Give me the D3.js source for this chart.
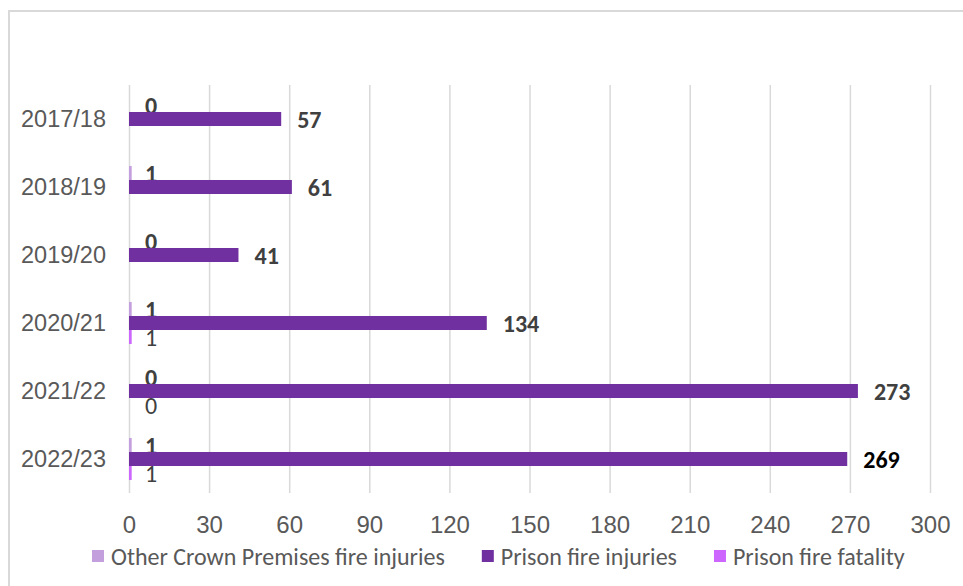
<!DOCTYPE html>
<html><head><meta charset="utf-8">
<script src="https://cdn.jsdelivr.net/npm/d3@7"></script>
<style>
html,body{margin:0;padding:0;background:#fff;}
svg{display:block;font-family:Carlito,Calibri,Lato,"Open Sans",sans-serif;}
</style></head>
<body><svg id="chart" width="963" height="586"></svg>
<script>
const categories = ["2017/18","2018/19","2019/20","2020/21","2021/22","2022/23"];
const seriesNames = ["Other Crown Premises fire injuries","Prison fire injuries","Prison fire fatality"];
const otherCrown = [0,1,0,1,0,1];
const prisonInjuries = [57,61,41,134,273,269];
const prisonFatality = [null,null,null,1,0,1];
const xTicks = [0,30,60,90,120,150,180,210,240,270,300];
const colors = ["#C39FDD","#7030A0","#CC66FF"];

(function(){
const seriesValues = [otherCrown, prisonInjuries, prisonFatality];
const svg = d3.select("#chart");

svg.append("rect").attr("x",9).attr("y",11).attr("width",1000).attr("height",1000)
  .attr("fill","none").attr("stroke","#d9d9d9").attr("stroke-width",2);

const pLeft = 129, pRight = 930, pTop = 85, pBottom = 493;
const x = d3.scaleLinear().domain([0,300]).range([pLeft,pRight]);
const y = d3.scaleBand().domain(categories).range([pTop,pBottom]).paddingInner(0.382).paddingOuter(0.191);
const ys = d3.scaleBand().domain(d3.range(3)).range([0,y.bandwidth()]);

// gridlines
svg.append("g").selectAll("line").data(xTicks).join("line")
  .attr("x1",d=>x(d)+0.5).attr("x2",d=>x(d)+0.5).attr("y1",pTop).attr("y2",pBottom)
  .attr("stroke","#d9d9d9").attr("stroke-width",1.5);

// x axis labels
const xAxis = svg.append("g").attr("transform",`translate(0,${pBottom})`)
  .call(d3.axisBottom(x).tickValues(xTicks).tickSize(0).tickPadding(0));
xAxis.select(".domain").remove();
xAxis.selectAll("text").attr("y",31).attr("dy","0.36em").attr("font-size",24)
  .attr("fill","#595959").attr("font-family",null);

// y axis labels
const yAxis = svg.append("g").attr("transform",`translate(${pLeft},0)`)
  .call(d3.axisLeft(y).tickSize(0).tickPadding(23));
yAxis.select(".domain").remove();
yAxis.selectAll("text").attr("font-size",23.5).attr("fill","#595959").attr("font-family",null).attr("dy","0.36em");

// bars
seriesValues.forEach((vals,si)=>{
  const g = svg.append("g");
  const data = categories.map((c,i)=>({c, v: vals[i], i}));
  g.selectAll("rect").data(data.filter(d=>d.v!==null)).join("rect")
    .attr("x",x(0)).attr("y",d=>y(d.c)+ys(si))
    .attr("width",d=>x(d.v)-x(0)).attr("height",ys.bandwidth())
    .attr("fill",colors[si]);
  g.selectAll("text").data(data.filter(d=>d.v!==null)).join("text")
    .attr("x",d=>si===1 ? x(d.v)+16 : x(0)+16)
    .attr("y",d=>y(d.c)+ys(si)+ys.bandwidth()/2)
    .attr("dy","0.36em")
    .attr("font-size",24)
    .attr("font-weight",si===2?"normal":"bold")
    .attr("fill",d=>(si===1 && d.i===5)?"#000":"#404040")
    .text(d=>d.v);
});

// legend
const lg = svg.append("g");
let lx = 92;
seriesNames.forEach((name,i)=>{
  lg.append("rect").attr("x",lx).attr("y",550).attr("width",12).attr("height",12).attr("fill",colors[i]);
  const t = lg.append("text").attr("x",lx+19).attr("y",556).attr("dy","0.36em")
    .attr("font-size",24).attr("fill","#595959").text(name);
  lx += 19 + t.node().getComputedTextLength() + 37;
});
})();
</script></body></html>
